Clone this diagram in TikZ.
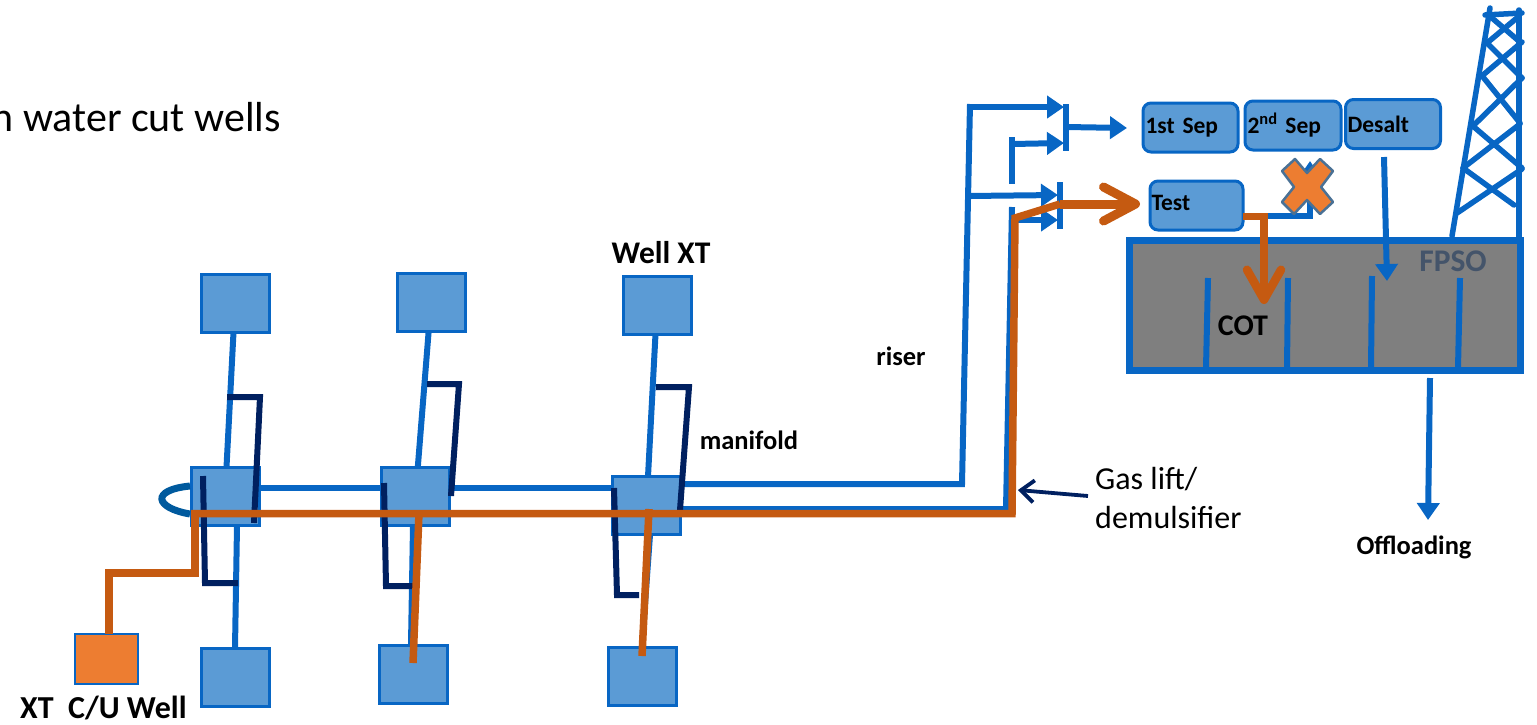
\documentclass[tikz,border=0pt]{standalone}
\usepackage{fontspec}
\setmainfont{Carlito}
\usetikzlibrary{arrows.meta}
\definecolor{pipe}{HTML}{0866C4}
\definecolor{boxfill}{HTML}{5B9BD5}
\definecolor{navyline}{HTML}{002060}
\definecolor{oline}{HTML}{C55A11}
\definecolor{ofill}{HTML}{ED7D31}
\definecolor{loopblue}{HTML}{005A9E}
\definecolor{fpsotext}{HTML}{44546A}
\definecolor{hullgray}{HTML}{7F7F7F}
\definecolor{xedge}{HTML}{4A7195}
\tikzset{
  wellbox/.style={draw=pipe,fill=boxfill,line width=3pt,minimum width=68pt,minimum height=58pt,inner sep=0pt,outer sep=0pt},
  sepbox/.style={draw=pipe,fill=boxfill,line width=3pt,rounded corners=8pt,minimum height=49pt,inner sep=0pt,outer sep=0pt,text width=90pt,align=left,font=\bfseries\fontsize{23.5}{26}\selectfont},
  bluepipe/.style={draw=pipe,line width=6pt},
  navypipe/.style={draw=navyline,line width=6pt},
  orangepipe/.style={draw=oline,line width=7.5pt},
  bluearrow/.style={draw=pipe,line width=6pt,-{Triangle[length=17pt,width=22pt]}},
  tower/.style={draw=pipe,line width=5.5pt,line cap=round},
  boldlabel/.style={font=\bfseries\fontsize{#1}{#1}\selectfont,inner sep=0pt},
}
\begin{document}
\begin{tikzpicture}[x=1pt,y=-1pt]
\useasboundingbox (0,0) rectangle (1537,724);
% well boxes
\node[wellbox] (w1) at (235,303.5) {};
\node[wellbox] (w2) at (431,302) {};
\node[wellbox] (w3) at (657,305.5) {};
\node[wellbox] (m1) at (225,496) {};
\node[wellbox] (m2) at (415.5,496) {};
\node[wellbox] (m3) at (646.5,505) {};
\node[wellbox] (b1) at (235,677) {};
\node[wellbox] (b2) at (413.5,674) {};
\node[wellbox] (b3) at (642,676.5) {};
\node[draw=pipe,fill=ofill,line width=2.5pt,minimum width=63pt,minimum height=50pt,inner sep=0pt,outer sep=0pt] (cu) at (106.5,659) {};
% labels
\node[anchor=east,inner sep=0pt,font=\fontsize{42}{42}\selectfont] (title) at (281,117) {n water cut wells};
\node[boldlabel=31.5] (lxt) at (661,253) {Well XT};
\node[boldlabel=26.5] (lriser) at (901,356) {riser};
\node[boldlabel=26.5] (lman) at (749,440) {manifold};
\node[boldlabel=32,anchor=west] (lcu) at (20,708) {XT\ \ C/U Well};
\node[anchor=west,inner sep=0pt,align=left,font=\fontsize{32}{39}\selectfont] (lgas) at (1095,498) {Gas lift/\\demulsifier};
\node[boldlabel=26.5] (loff) at (1414,547) {Offloading};
% blue flowlines
\draw[bluepipe] (w1) -- (m1);
\draw[bluepipe] (w2) -- (m2);
\draw[bluepipe] (w3) -- (m3);
\coordinate (m1s) at (237,526);
\coordinate (m2s) at (413,526);
\coordinate (m3s) at (650,535);
\draw[bluepipe] (m1s) -- (b1.north);
\draw[bluepipe] (m2s) -- (411,644);
\draw[bluepipe] (m3s) -- (642,646);
\draw[draw=loopblue,line width=7pt] (190,486) .. controls (150,490) and (155,508) .. (190,514);
\draw[bluepipe] (m1.east |- 0,488) -- (m2.west |- 0,488);
\draw[bluepipe] (m2.east |- 0,488) -- (m3.west |- 0,488);
% risers and headers
\coordinate (r1a) at (962,484);
\coordinate (r1t) at (970,104);
\coordinate (r2a) at (1006,509);
\coordinate (r2t) at (1012,207);
\draw[bluepipe] (m3.east |- 0,484) -- (r1a) -- (r1t);
\draw[bluepipe] (m3.east |- 0,509) -- (r2a) -- (r2t);
\draw[bluepipe] (1012,137) -- (1012,184);
\coordinate (bar1t) at (1066,104);
\coordinate (bar1b) at (1066,151);
\coordinate (bar2t) at (1060,182);
\coordinate (bar2b) at (1060,229);
\draw[bluepipe] (bar1t) -- (bar1b);
\draw[bluepipe] (bar2t) -- (bar2b);
\draw[bluearrow] (970,107) -- (1064,107);
\draw[bluearrow] (1012,144) -- (1064,143);
\draw[bluearrow] (968,196) -- (1058,195);
\draw[bluearrow] (1012,220) -- (1058,220);
% separators
\node[sepbox,minimum width=95pt,text width=90pt] (sep1) at (1190.5,127.5) {\raisebox{3pt}{1st Sep}};
\node[sepbox,minimum width=96pt,text width=91pt] (sep2) at (1293,125.5) {\raisebox{2pt}{2\textsuperscript{nd} Sep}};
\node[sepbox,minimum width=95pt,text width=91pt] (desalt) at (1393,124) {Desalt};
\node[sepbox,minimum width=93pt,text width=90pt] (test) at (1196.5,205.5) {\raisebox{6pt}{Test}};
\draw[bluearrow] (1066,127) -- (1127,128);
% FPSO hull
\node[draw=pipe,fill=hullgray,line width=6.5pt,minimum width=391pt,minimum height=130pt,inner sep=0pt,outer sep=0pt] (hull) at (1325,305.5) {};
\node[boldlabel=31.5,text=fpsotext] (lfpso) at (1453,261) {FPSO};
\node[boldlabel=30] (lcot) at (1243,326) {COT};
\draw[bluepipe] (1208,278) -- (1206,368);
\draw[bluepipe] (1288,278) -- (1287,368);
\draw[bluepipe] (1372,276) -- (1371,368);
\draw[bluepipe] (1460,278) -- (1458,368);
% blue arrows
\draw[bluearrow] (test.east |- 0,216) -- (1310,216) -- (1310,161);
\draw[bluearrow] (1384,157) -- (1387,281);
\draw[bluearrow] (1430,378) -- (1428,520);
% X mark
\draw[fill=ofill,draw=xedge,line width=2.5pt,line join=round] (1295,159) -- (1307,173) -- (1320,159) -- (1333,171) -- (1321,187) -- (1333,202) -- (1320,214) -- (1307,200) -- (1294,214) -- (1282,202) -- (1294,187) -- (1282,171) -- cycle;
% navy jumpers
\draw[navypipe] (227,397) -- (260,397) -- (254,523);
\draw[navypipe] (427,384) -- (459,384) -- (451,496);
\draw[navypipe] (656,387) -- (689,387) -- (680,510);
\draw[navypipe] (203,476) -- (205,583) -- (238,583);
\draw[navypipe] (384,483) -- (386,586) -- (413,586);
\draw[navypipe] (614,488) -- (617,595) -- (639,595);
% tower
\draw[tower] (1452,236) -- (1490,8);
\draw[tower] (1519,237) -- (1519,10);
\draw[tower] (1485,15) -- (1522,13);
\draw[tower] (1492,18) -- (1520,42);
\draw[tower] (1518,17) -- (1487,43);
\draw[tower] (1487,43) -- (1522,78);
\draw[tower] (1522,42) -- (1483,75);
\draw[tower] (1483,77) -- (1520,123);
\draw[tower] (1522,78) -- (1474,125);
\draw[tower] (1474,127) -- (1522,168);
\draw[tower] (1520,124) -- (1463,168);
\draw[tower] (1463,168) -- (1514,205);
\draw[tower] (1522,169) -- (1457,213);
% gas lift / chemical line
\coordinate (of1) at (1012,513.5);
\coordinate (of2) at (1015,218);
\coordinate (of3) at (1060,204);
\coordinate (testin) at (1140,204);
\draw[orangepipe,line join=miter] (m1.west |- 0,513.5) -- (of1) -- (of2) -- (of3);
\draw[oline,line width=9pt,-{Straight Barb[length=32pt,width=34pt,round]}] (of3) -- (testin);
\draw[oline,line width=7pt] (test.east |- 0,216) -- (1264,216);
\draw[oline,line width=8.5pt,-{Straight Barb[length=30pt,width=34pt,round]}] (1264,213) -- (1264,304);
\draw[orangepipe] (cu.north -| 109,0) -- (109,573) -- (195,573) -- (195,513);
\draw[orangepipe] (419,513) -- (413,663);
\draw[orangepipe] (649,509) -- (642,656);
% pointer
\draw[navyline,line width=3.8pt,-{Straight Barb[length=13pt,width=22pt]}] (lgas.west |- 0,496) ++(-7,0) -- (1018,490);
\end{tikzpicture}
\end{document}
